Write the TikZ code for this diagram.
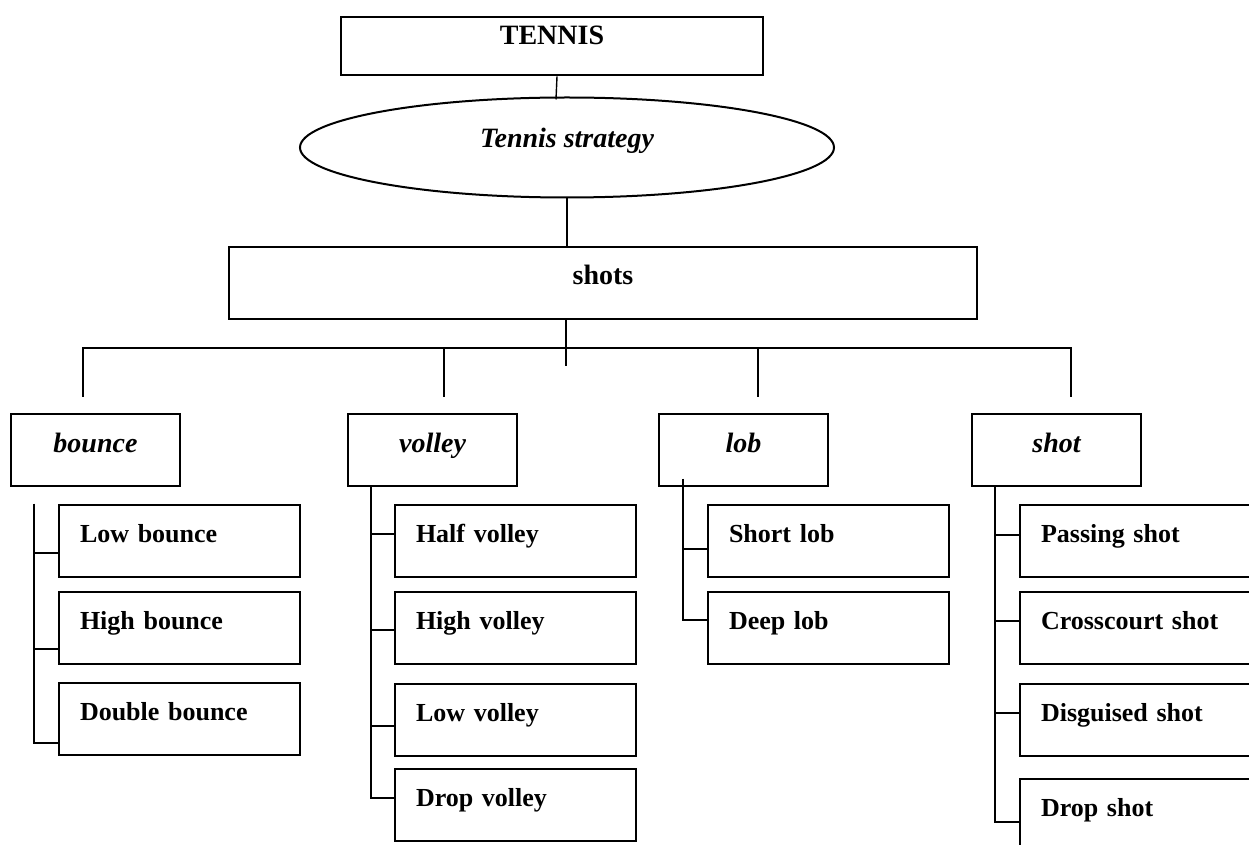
\documentclass[tikz,border=0pt]{standalone}
\usepackage{fontspec}
\setmainfont{Liberation Serif}
\usetikzlibrary{shapes.geometric, positioning}

\begin{document}
\begin{tikzpicture}[
  x=0.5pt, y=-0.5pt,
  headbox/.style = {rectangle, draw, line width=1pt, inner sep=0pt,
    font=\fontsize{14}{16}\selectfont\bfseries, anchor=north west},
  ovalnode/.style = {ellipse, draw, line width=1pt, inner sep=0pt,
    minimum width=267pt, minimum height=50pt, text height=5pt, text depth=5pt,
    font=\fontsize{14}{16}\selectfont\bfseries\itshape},
  catbox/.style = {rectangle, draw, line width=1pt, inner sep=0pt,
    minimum width=84.5pt, text height=19.3pt, text depth=16.7pt,
    font=\fontsize{14}{16}\selectfont\bfseries\itshape, anchor=north west},
  itembox/.style = {rectangle, draw, line width=1pt, inner xsep=10.5pt,
    inner ysep=0pt, text width=99.5pt, align=left, text height=18.8pt,
    text depth=17.2pt, font=\fontsize{13}{15}\selectfont\bfseries,
    anchor=north west},
  link/.style = {line width=0.7pt},
  spine/.style = {line width=0.9pt},
]
\useasboundingbox (0,0) rectangle (1249,845);
\clip (0,0) rectangle (1249,845);

% Top of the tree
\node[headbox, minimum width=211pt, text height=13.8pt, text depth=15.4pt]
  (tennis) at (340,16) {TENNIS};
\node[ovalnode] (strat) at (567,147.5) {Tennis strategy};
\node[headbox, minimum width=374pt, text height=19pt, text depth=17pt]
  (shots) at (228,246) {shots};

% Categories
\node[catbox] (bounce) at (10,413)  {bounce};
\node[catbox] (volley) at (347,413) {volley};
\node[catbox] (lob)    at (658,413) {lob};
\node[catbox] (shot)   at (971,413) {shot};

% Items of bounce
\node[itembox] (lowb)    at (58,504) {Low bounce};
\node[itembox] (highb)   at (58,591) {High bounce};
\node[itembox] (doubleb) at (58,682) {Double bounce};
% Items of volley
\node[itembox] (halfv) at (394,504) {Half volley};
\node[itembox] (highv) at (394,591) {High volley};
\node[itembox] (lowv)  at (394,683) {Low volley};
\node[itembox] (dropv) at (394,768) {Drop volley};
% Items of lob
\node[itembox] (shortl) at (707,504) {Short lob};
\node[itembox] (deepl)  at (707,591) {Deep lob};
% Items of shot
\node[itembox] (passs)  at (1019,504) {Passing shot};
\node[itembox] (crosss) at (1019,591) {Crosscourt shot};
\node[itembox] (disgs)  at (1019,683) {Disguised shot};
\node[itembox] (drops)  at (1019,778) {Drop shot};

% Links at the top
\draw[link] ([xshift=2.5pt]tennis.south) -- ([xshift=-5.5pt,yshift=-1.5pt]strat.north);
\draw[link] (strat.south) -- (strat.south |- shots.north);

% Bus to the categories
\coordinate (hub)   at (566,366);
\coordinate (busL)  at (83,348);
\coordinate (busR)  at (1071,348);
\coordinate (dropA) at (83,397);
\coordinate (dropB) at (444,397);
\coordinate (dropC) at (758,397);
\coordinate (dropD) at (1071,397);
\draw[link] (hub |- shots.south) -- (hub);
\draw[link] (dropA) -- (busL) -- (busR) -- (dropD);
\draw[link] (dropB) -- (dropB |- busL);
\draw[link] (dropC) -- (dropC |- busL);

% Spines of the groups
\coordinate (bspine) at ([xshift=-12pt]lowb.north west);
\coordinate (vspine) at ([xshift=12pt]volley.south west);
\coordinate (lspine) at ([xshift=12.5pt,yshift=4pt]lob.south west);
\coordinate (sspine) at ([xshift=12pt]shot.south west);

\draw[spine] (bspine) |- ([yshift=-6pt]lowb.west);
\draw[spine] (bspine) |- ([yshift=-10.5pt]highb.west);
\draw[spine] (bspine) |- ([yshift=-12pt]doubleb.west);

\draw[spine] (vspine) |- ([yshift=3.5pt]halfv.west);
\draw[spine] (vspine) |- ([yshift=-1pt]highv.west);
\draw[spine] (vspine) |- ([yshift=-3pt]lowv.west);
\draw[spine] (vspine) |- ([yshift=3.5pt]dropv.west);

\draw[spine] (lspine) |- ([yshift=-4pt]shortl.west);
\draw[spine] (lspine) |- ([yshift=4pt]deepl.west);

\draw[spine] (sspine) |- ([yshift=3pt]passs.west);
\draw[spine] (sspine) |- ([yshift=3.5pt]crosss.west);
\draw[spine] (sspine) |- ([yshift=3.5pt]disgs.west);
\draw[spine] (sspine) |- ([yshift=-3.5pt]drops.west);
\end{tikzpicture}
\end{document}
